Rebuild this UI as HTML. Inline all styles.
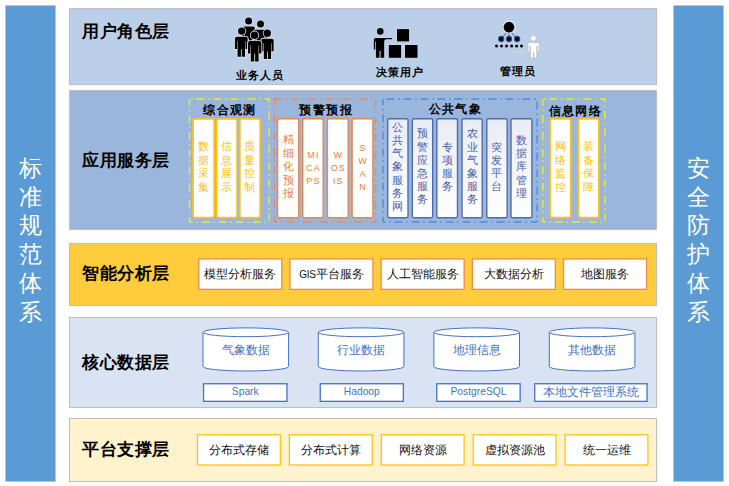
<!DOCTYPE html>
<html><head><meta charset="utf-8">
<style>
*{margin:0;padding:0;box-sizing:border-box}
html,body{width:729px;height:486px;background:#fff;overflow:hidden;font-family:"Liberation Sans",sans-serif}
.a{position:absolute}
.bar{position:absolute;top:5px;width:51px;height:477px;background:#5B9BD5;border:1px solid #C8C3BE;color:#fff;font-size:22.6px;line-height:28.7px;text-align:center}
.bar div{position:absolute;left:0;right:0;top:149px}
.layer{position:absolute;left:69px;width:588px;border:1px solid #C2BFBB;box-shadow:0 0 1px rgba(0,0,0,.12)}
.title{position:absolute;left:82px;font-size:17.3px;letter-spacing:0.6px;font-weight:bold;color:#000;white-space:nowrap;line-height:20px}
.lbl{position:absolute;font-size:11px;letter-spacing:1px;font-weight:900;color:#000;white-space:nowrap;line-height:14px}
.gt{position:absolute;top:101.8px;font-size:12px;letter-spacing:1.4px;font-weight:900;color:#000;white-space:nowrap;line-height:16px}
.vt{position:absolute;top:118px;height:100px;text-align:center;font-size:10.6px;display:flex;align-items:center;justify-content:center}
.vt span{display:block;line-height:13.5px;margin-bottom:2px}
.cb span{line-height:13.2px}
.vt .en{font-size:9px;line-height:13px;letter-spacing:1.2px;padding-left:1.2px;margin-bottom:0}
.cy{color:#FFC000}.co{color:#ED7D31}.cb{color:#4A5EAE}
.sb{position:absolute;top:258.8px;width:84.3px;height:31.7px;font-size:12px;color:#111;text-align:center;line-height:31.7px;white-space:nowrap}
.pb{position:absolute;top:434.7px;width:84px;height:31.4px;font-size:12px;color:#111;text-align:center;line-height:31.4px;white-space:nowrap}
.ct{position:absolute;top:341px;width:86px;text-align:center;font-size:12px;color:#4472C4;line-height:18px;white-space:nowrap}
.db{position:absolute;top:383.1px;height:18.9px;font-size:10.3px;color:#4472C4;text-align:center;line-height:18.9px;white-space:nowrap}
</style></head><body>
<div class="bar" style="left:5px"><div>标<br>准<br>规<br>范<br>体<br>系</div></div>
<div class="bar" style="left:673px"><div>安<br>全<br>防<br>护<br>体<br>系</div></div>
<div class="layer" style="top:8px;height:77px;background:#BCCFE8"></div>
<div class="layer" style="top:90px;height:140px;background:#9AB6DC"></div>
<div class="layer" style="top:243px;height:63px;background:#FFCC3E"></div>
<div class="layer" style="top:317px;height:91px;background:#DAE3F3"></div>
<div class="layer" style="top:418px;height:64px;background:#FFF2CC"></div>
<div class="title" style="top:21.4px">用户角色层</div>
<div class="title" style="top:149.5px">应用服务层</div>
<div class="title" style="top:262.8px">智能分析层</div>
<div class="title" style="top:351.6px">核心数据层</div>
<div class="title" style="top:439px">平台支撑层</div>
<svg class="a" style="left:0;top:0" width="729" height="90" viewBox="0 0 729 90">
<defs>
<path id="pp" d="M0,2 Q0,0 2,0 H11 Q13,0 13,2 V12.3 H10.8 V4.5 H10.3 V20 H6.9 V12.5 H6.1 V20 H2.7 V4.5 H2.2 V12.3 H0 Z"/>
</defs>
<g fill="#000" stroke="#E2E4E8" stroke-width="1.7" paint-order="stroke">
<g transform="translate(242,26.5)"><use href="#pp"/><circle cx="6.6" cy="-5.6" r="3.5"/></g>
<g transform="translate(254,29.8)"><use href="#pp"/><circle cx="6.5" cy="-5.7" r="3.5"/></g>
<g transform="translate(234.9,36.8)"><use href="#pp" transform="scale(0.985,1)"/><circle cx="6.8" cy="-5.7" r="3.7"/></g>
<g transform="translate(261.2,38.7)"><use href="#pp" transform="scale(0.96,1.02)"/><circle cx="6.1" cy="-5.5" r="3.7"/></g>
<g transform="translate(248,41)"><use href="#pp" transform="scale(1.03,1.02)"/><circle cx="6.5" cy="-5.7" r="3.8"/></g>
</g>
<g fill="#000" stroke="#D8DEE6" stroke-width="0.8" paint-order="stroke">
<circle cx="380.3" cy="31.4" r="3.3"/>
<path d="M375.8,37.9 H391.9 V39.2 H386 Q384.2,39.6 384.2,41.5 V57.8 H380.6 V51 H379.6 V57.8 H375.9 V41.5 H375.2 V49.4 H373.8 V40 Q373.8,37.9 375.8,37.9 Z"/>
<rect x="397" y="29.1" width="12.1" height="12.3"/>
<rect x="388.8" y="45" width="12.3" height="12.8"/>
<rect x="405" y="45" width="12.5" height="12.8"/>
</g>
<line x1="511.4" y1="52" x2="528" y2="52" stroke="#D4D8DC" stroke-width="1"/>
<g stroke="#2F4F8F" stroke-width="0.9">
<line x1="507" y1="32" x2="501.2" y2="39"/><line x1="509" y1="32" x2="509" y2="39"/><line x1="511" y1="32" x2="517.1" y2="39"/>
</g>
<circle cx="509" cy="27.2" r="6.0" fill="#000" stroke="#E4E8EE" stroke-width="1.2"/>
<g fill="#000" stroke="#2C4C90" stroke-width="1.1">
<circle cx="501.2" cy="39" r="2.6"/><circle cx="509" cy="39" r="2.6"/><circle cx="517.1" cy="39" r="2.6"/>
</g>
<g fill="#000">
<circle cx="496.5" cy="46.1" r="1.5"/><circle cx="501.5" cy="46.1" r="1.5"/><circle cx="506.5" cy="46.1" r="1.5"/><circle cx="511.6" cy="46.1" r="1.5"/><circle cx="516.6" cy="46.1" r="1.5"/><circle cx="521.5" cy="46.1" r="1.5"/>
</g>
<g fill="#fff" stroke="#B4B9C2" stroke-width="0.8">
<circle cx="533.4" cy="38.3" r="3"/>
<g transform="translate(528,42.5) scale(0.86,0.78)"><use href="#pp"/></g>
</g>
</svg>
<div class="lbl" style="left:235.5px;top:68px">业务人员</div>
<div class="lbl" style="left:375.5px;top:65px">决策用户</div>
<div class="lbl" style="left:499.5px;top:64px">管理员</div>
<svg class="a" style="left:0;top:0" width="729" height="240" viewBox="0 0 729 240" fill="none">
<defs><linearGradient id="bg" x1="0" x2="0" y1="0" y2="1"><stop offset="0" stop-color="#E9ECF3"/><stop offset="1" stop-color="#FFFFFF"/></linearGradient></defs>
<rect x="189.5" y="99" width="79.60" height="123" stroke="#EEEA28" stroke-width="1.4" stroke-dasharray="8 4 1.5 3.5" stroke-dashoffset="10.1" stroke-linejoin="round"/>
<rect x="274.5" y="99" width="101.10" height="123" stroke="#E98A55" stroke-width="1.4" stroke-dasharray="8 4 1.5 3.5" stroke-dashoffset="0.4" stroke-linejoin="round"/>
<rect x="383.1" y="99" width="153.90" height="123" stroke="#4A8EE0" stroke-width="1.4" stroke-dasharray="8 4 1.5 3.5" stroke-dashoffset="13.7" stroke-linejoin="round"/>
<rect x="542.8" y="99" width="62.20" height="123" stroke="#EEEA28" stroke-width="1.4" stroke-dasharray="8 4 1.5 3.5" stroke-dashoffset="10.7" stroke-linejoin="round"/>
<rect x="193.05" y="118.85" width="21.10" height="98.70" rx="1.6" fill="#fff" stroke="#FCC21A" stroke-width="1.7"/>
<rect x="216.75" y="118.85" width="20.30" height="98.70" rx="1.6" fill="#fff" stroke="#FCC21A" stroke-width="1.7"/>
<rect x="239.85" y="118.85" width="20.20" height="98.70" rx="1.6" fill="#fff" stroke="#FCC21A" stroke-width="1.7"/>
<rect x="277.60" y="118.70" width="21.10" height="99.00" rx="1.6" fill="#fff" stroke="#EC8548" stroke-width="1.4"/>
<rect x="302.70" y="118.70" width="20.50" height="99.00" rx="1.6" fill="#fff" stroke="#EC8548" stroke-width="1.4"/>
<rect x="327.40" y="118.70" width="20.80" height="99.00" rx="1.6" fill="#fff" stroke="#EC8548" stroke-width="1.4"/>
<rect x="352.10" y="118.70" width="20.80" height="99.00" rx="1.6" fill="#fff" stroke="#EC8548" stroke-width="1.4"/>
<rect x="387.70" y="118.70" width="20.30" height="99.00" rx="1.6" fill="url(#bg)" stroke="#4D6DB3" stroke-width="1.4"/>
<rect x="412.30" y="118.70" width="20.40" height="99.00" rx="1.6" fill="url(#bg)" stroke="#4D6DB3" stroke-width="1.4"/>
<rect x="436.80" y="118.70" width="20.70" height="99.00" rx="1.6" fill="url(#bg)" stroke="#4D6DB3" stroke-width="1.4"/>
<rect x="462.00" y="118.70" width="20.20" height="99.00" rx="1.6" fill="url(#bg)" stroke="#4D6DB3" stroke-width="1.4"/>
<rect x="486.80" y="118.70" width="20.40" height="99.00" rx="1.6" fill="url(#bg)" stroke="#4D6DB3" stroke-width="1.4"/>
<rect x="511.00" y="118.70" width="20.90" height="99.00" rx="1.6" fill="url(#bg)" stroke="#4D6DB3" stroke-width="1.4"/>
<rect x="550.25" y="118.85" width="20.50" height="98.70" rx="1.6" fill="#fff" stroke="#FCC21A" stroke-width="1.7"/>
<rect x="578.45" y="118.85" width="20.40" height="98.70" rx="1.6" fill="#fff" stroke="#FCC21A" stroke-width="1.7"/>
</svg>
<div class="vt cy" style="left:192.2px;width:22.8px"><span>数<br>据<br>采<br>集</span></div>
<div class="vt cy" style="left:215.9px;width:22.0px"><span>信<br>息<br>展<br>示</span></div>
<div class="vt cy" style="left:239.0px;width:21.9px"><span>质<br>量<br>控<br>制</span></div>
<div class="vt co" style="left:276.9px;width:22.5px"><span>精<br>细<br>化<br>预<br>报</span></div>
<div class="vt co" style="left:302.0px;width:21.9px"><span class="en">MI<br>CA<br>PS</span></div>
<div class="vt co" style="left:326.7px;width:22.2px"><span class="en">W<br>OS<br>IS</span></div>
<div class="vt co" style="left:351.4px;width:22.2px"><span class="en">S<br>W<br>A<br>N</span></div>
<div class="vt cb" style="left:387.0px;width:21.7px"><span>公<br>共<br>气<br>象<br>服<br>务<br>网</span></div>
<div class="vt cb" style="left:411.6px;width:21.8px"><span>预<br>警<br>应<br>急<br>服<br>务</span></div>
<div class="vt cb" style="left:436.1px;width:22.1px"><span>专<br>项<br>服<br>务</span></div>
<div class="vt cb" style="left:461.3px;width:21.6px"><span>农<br>业<br>气<br>象<br>服<br>务</span></div>
<div class="vt cb" style="left:486.1px;width:21.8px"><span>突<br>发<br>平<br>台</span></div>
<div class="vt cb" style="left:510.3px;width:22.3px"><span>数<br>据<br>库<br>管<br>理</span></div>
<div class="vt cy" style="left:549.4px;width:22.2px"><span>网<br>络<br>监<br>控</span></div>
<div class="vt cy" style="left:577.6px;width:22.1px"><span>装<br>备<br>保<br>障</span></div>
<div class="gt" style="left:203.2px">综合观测</div>
<div class="gt" style="left:299.4px">预警预报</div>
<div class="gt" style="left:428.5px;top:100.6px">公共气象</div>
<div class="gt" style="left:548.5px;top:102.5px">信息网络</div>
<svg class="a" style="left:0;top:0" width="729" height="486" viewBox="0 0 729 486">
<rect x="198.75" y="258.95" width="83.00" height="30.40" fill="#fff" stroke="#EF8B4A" stroke-width="1.3"/>
<rect x="289.95" y="258.95" width="83.00" height="30.40" fill="#fff" stroke="#EF8B4A" stroke-width="1.3"/>
<rect x="381.15" y="258.95" width="83.00" height="30.40" fill="#fff" stroke="#EF8B4A" stroke-width="1.3"/>
<rect x="472.35" y="258.95" width="83.00" height="30.40" fill="#fff" stroke="#EF8B4A" stroke-width="1.3"/>
<rect x="563.55" y="258.95" width="83.00" height="30.40" fill="#fff" stroke="#EF8B4A" stroke-width="1.3"/>
</svg>
<div class="sb" style="left:198.1px">模型分析服务</div>
<div class="sb" style="left:289.3px"><span style="font-size:10px;letter-spacing:-0.3px">GIS</span>平台服务</div>
<div class="sb" style="left:380.5px">人工智能服务</div>
<div class="sb" style="left:471.7px">大数据分析</div>
<div class="sb" style="left:562.9px">地图服务</div>
<svg class="a" style="left:0;top:0" width="729" height="486" viewBox="0 0 729 486" fill="#fff" stroke="#4472C4" stroke-width="1">
<g id="c1"><path d="M203,332.3 V366.6 A42.8,4.4 0 0 0 288.6,366.6 V332.3"/><ellipse cx="245.8" cy="332.3" rx="42.8" ry="4.4"/></g>
<use href="#c1" x="115.3"/><use href="#c1" x="230.9"/><use href="#c1" x="346.3"/>
</svg>
<div class="ct" style="left:203px">气象数据</div>
<div class="ct" style="left:318.3px">行业数据</div>
<div class="ct" style="left:433.9px">地理信息</div>
<div class="ct" style="left:549.3px">其他数据</div>
<svg class="a" style="left:0;top:0" width="729" height="486" viewBox="0 0 729 486">
<rect x="203.55" y="383.75" width="83.40" height="17.60" fill="#fff" stroke="#4472C4" stroke-width="1.3"/>
<rect x="320.25" y="383.75" width="83.10" height="17.60" fill="#fff" stroke="#4472C4" stroke-width="1.3"/>
<rect x="436.75" y="383.75" width="83.40" height="17.60" fill="#fff" stroke="#4472C4" stroke-width="1.3"/>
<rect x="534.75" y="383.75" width="112.30" height="17.60" fill="#fff" stroke="#4472C4" stroke-width="1.3"/>
</svg>
<div class="db" style="left:202.9px;width:84.7px">Spark</div>
<div class="db" style="left:319.6px;width:84.4px">Hadoop</div>
<div class="db" style="left:436.1px;width:84.7px">PostgreSQL</div>
<div class="db" style="left:534.1px;width:113.6px;font-size:11.8px">本地文件管理系统</div>
<svg class="a" style="left:0;top:0" width="729" height="486" viewBox="0 0 729 486">
<rect x="197.50" y="434.80" width="82.80" height="30.20" fill="#fff" stroke="#FFC000" stroke-width="1.2"/>
<rect x="289.40" y="434.80" width="82.80" height="30.20" fill="#fff" stroke="#FFC000" stroke-width="1.2"/>
<rect x="381.30" y="434.80" width="82.80" height="30.20" fill="#fff" stroke="#FFC000" stroke-width="1.2"/>
<rect x="473.20" y="434.80" width="82.80" height="30.20" fill="#fff" stroke="#FFC000" stroke-width="1.2"/>
<rect x="565.10" y="434.80" width="82.80" height="30.20" fill="#fff" stroke="#FFC000" stroke-width="1.2"/>
</svg>
<div class="pb" style="left:196.9px">分布式存储</div>
<div class="pb" style="left:288.8px">分布式计算</div>
<div class="pb" style="left:380.7px">网络资源</div>
<div class="pb" style="left:472.6px">虚拟资源池</div>
<div class="pb" style="left:564.5px">统一运维</div>
</body></html>
